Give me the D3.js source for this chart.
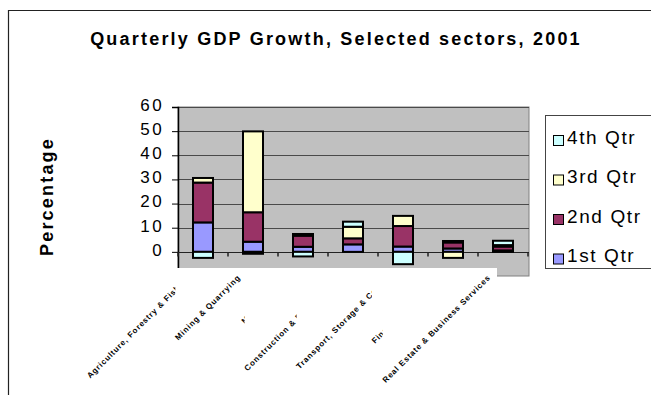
<!DOCTYPE html>
<html>
<head>
<meta charset="utf-8">
<script src="https://cdn.jsdelivr.net/npm/d3@7"></script>
<style>
  body { margin: 0; background: #fff; }
  svg { display: block; font-family: Arial, "Liberation Sans", sans-serif; }
</style>
</head>
<body>
<div id="chart"></div>
<script>
var sectors = [
  'Agriculture, Forestry & Fishing',
  'Mining & Quarrying',
  'Manufacturing',
  'Construction & Public Works',
  'Transport, Storage & Comm.',
  'Finance & Insurance',
  'Real Estate & Business Services'
]
var quarters = ['1st Qtr', '2nd Qtr', '3rd Qtr', '4th Qtr']
var q1 = [12.2, 4.2, 2.1, 3.1, 2.2, 1.4, 0.6]
var q2 = [16.5, 12.2, 4.6, 2.5, 8.5, 2.5, 1.6]
var q3 = [1.9, 33.5, 0.7, 4.8, 4.2, -2.5, 0.6]
var q4 = [-2.5, -0.8, -1.9, 2.1, -5.1, 0.6, 1.8]
var yTicks = [-10, 0, 10, 20, 30, 40, 50, 60]
var colours = ['#9999ff', '#993366', '#ffffcc', '#ccffff']

var table = sectors.map(function(s, i) {
  return {sector: s, '1st Qtr': q1[i], '2nd Qtr': q2[i], '3rd Qtr': q3[i], '4th Qtr': q4[i]}
})

var width = 651, height = 395
var plot = {left: 178, right: 528, top: 107, bottom: 276}

var svg = d3.select('#chart').append('svg')
  .attr('width', width)
  .attr('height', height)

var x = d3.scaleBand()
  .domain(sectors)
  .range([plot.left, plot.right])

var y = d3.scaleLinear()
  .domain([-10, 60])
  .range([plot.bottom, plot.top])

var colour = d3.scaleOrdinal().domain(quarters).range(colours)

/* chart frame, open on the right and bottom */
svg.append('path')
  .attr('d', 'M8.5,' + height + 'V10.5H' + width)
  .attr('fill', 'none')
  .attr('stroke', '#222')
  .attr('stroke-width', 1.2)

svg.append('text')
  .attr('x', 336)
  .attr('y', 45)
  .attr('text-anchor', 'middle')
  .style('font-size', '18px')
  .style('font-weight', 'bold')
  .style('letter-spacing', '2.2px')
  .text('Quarterly GDP Growth, Selected sectors, 2001')

svg.append('text')
  .attr('transform', 'translate(53,' + ((plot.top + plot.bottom) / 2 + 5) + ') rotate(-90)')
  .attr('text-anchor', 'middle')
  .style('font-size', '18px')
  .style('font-weight', 'bold')
  .style('letter-spacing', '2.2px')
  .text('Percentage')

/* plot area */
svg.append('rect')
  .attr('x', plot.left)
  .attr('y', plot.top)
  .attr('width', plot.right - plot.left + 1)
  .attr('height', plot.bottom - plot.top)
  .attr('fill', '#c0c0c0')
  .attr('stroke', '#808080')

svg.append('g')
  .selectAll('line')
  .data(yTicks.filter(function(d) { return d > 0 }))
  .join('line')
  .attr('x1', plot.left)
  .attr('x2', plot.right + 1)
  .attr('y1', function(d) { return Math.round(y(d)) + 0.5 })
  .attr('y2', function(d) { return Math.round(y(d)) + 0.5 })
  .attr('stroke', '#4a4a4a')

/* y axis */
var yAxis = svg.append('g')
  .attr('transform', 'translate(' + plot.left + ',0)')
  .call(d3.axisLeft(y).tickValues(yTicks).tickSize(6).tickPadding(8))
yAxis.select('.domain').attr('stroke', '#000').attr('stroke-width', 1.5)
yAxis.selectAll('.tick line').attr('stroke', '#000')
yAxis.selectAll('.tick text')
  .style('font-size', '17px')
  .style('letter-spacing', '2.4px')
  .attr('fill', '#000')
  .attr('dy', '0.2em')

/* x axis on the zero line */
var xAxis = svg.append('g')
  .attr('transform', 'translate(0,' + (Math.round(y(0)) + 0.5) + ')')
xAxis.append('line')
  .attr('x1', plot.left)
  .attr('x2', plot.right + 1)
  .attr('stroke', '#222')
  .attr('stroke-width', 1.2)
xAxis.selectAll('.xtick')
  .data(d3.range(sectors.length + 1))
  .join('line')
  .attr('class', 'xtick')
  .attr('x1', function(i) { return plot.left + i * x.step() })
  .attr('x2', function(i) { return plot.left + i * x.step() })
  .attr('y1', 0)
  .attr('y2', 4)
  .attr('stroke', '#222')
  .attr('stroke-width', 1.5)

/* stacked bars */
var series = d3.stack()
  .keys(quarters)
  .offset(d3.stackOffsetDiverging)(table)

var barWidth = 20
svg.append('g')
  .selectAll('g')
  .data(series)
  .join('g')
  .attr('fill', function(d) { return colour(d.key) })
  .selectAll('rect')
  .data(function(d) { return d })
  .join('rect')
  .attr('x', function(d) { return x(d.data.sector) + (x.bandwidth() - barWidth) / 2 })
  .attr('y', function(d) { return y(Math.max(d[0], d[1])) })
  .attr('width', barWidth)
  .attr('height', function(d) { return Math.abs(y(d[0]) - y(d[1])) })
  .attr('stroke', '#000')
  .attr('stroke-width', 2)

/* category labels, each on its own white box that hides what lies under it */
var labelY = plot.bottom + 2
var labels = svg.append('g')
sectors.forEach(function(s) {
  var g = labels.append('g')
  var bg = g.append('rect').attr('fill', '#fff')
  var cx = x(s) + x.bandwidth() / 2 - 12
  var t = g.append('text')
    .attr('transform', 'translate(' + cx + ',' + labelY + ') rotate(-45)')
    .attr('text-anchor', 'end')
    .style('font-size', '8px')
    .style('font-weight', 'bold')
    .style('letter-spacing', '0.8px')
    .text(s)
  var d = t.node().getComputedTextLength() * Math.SQRT1_2
  bg.attr('x', cx - d - 3)
    .attr('y', labelY - 10)
    .attr('width', d + 9)
    .attr('height', d + 22)
})

/* legend */
var legend = svg.append('g')
legend.append('rect')
  .attr('x', 545.5)
  .attr('y', 115.5)
  .attr('width', 120)
  .attr('height', 153)
  .attr('fill', '#fff')
  .attr('stroke', '#444')

var items = legend.selectAll('.item')
  .data(quarters.slice().reverse())
  .join('g')
  .attr('class', 'item')
  .attr('transform', function(d, i) { return 'translate(553,' + (143.5 + i * 39.5) + ')' })
items.append('rect')
  .attr('x', 0.5)
  .attr('y', -8)
  .attr('width', 10)
  .attr('height', 10)
  .attr('fill', function(d) { return colour(d) })
  .attr('stroke', '#000')
items.append('text')
  .attr('x', 14)
  .attr('y', 0)
  .style('font-size', '19px')
  .style('letter-spacing', '1.6px')
  .text(function(d) { return d })
</script>
</body>
</html>
